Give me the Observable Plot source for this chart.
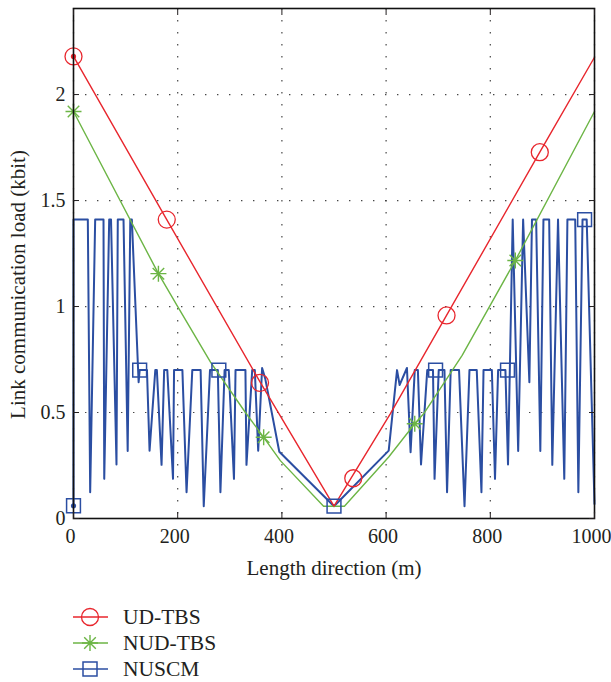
<!DOCTYPE html>
<html><head><meta charset="utf-8">
<script src="https://cdn.jsdelivr.net/npm/d3@7"></script>
<script src="https://cdn.jsdelivr.net/npm/@observablehq/plot@0.6"></script>
<style>
body{margin:0;background:#fff;font-family:"Liberation Serif",serif;}
#wrap{position:relative;width:611px;height:682px;}
.leg{position:absolute;left:72px;height:26px;display:flex;align-items:center;font-size:21.5px;color:#231f20;}
.leg svg{margin-right:14px;}
</style></head><body><div id="wrap"><div id="chart"></div></div>
<script>
const xTicks = [0, 200, 400, 600, 800, 1000];
const yTicks = [0, 0.5, 1, 1.5, 2];
const seriesNames = ["UD-TBS", "NUD-TBS", "NUSCM"];
const colors = ["#e8262d", "#6cb545", "#2b4ea2"];

// UD-TBS (red)
const udX = [0, 179, 358, 500, 608, 716, 895, 1000];
const udY = [2.18, 1.41, 0.645, 0.058, 0.494, 0.958, 1.728, 2.176];
const udMarkX = [0, 179, 358, 537, 716, 895];
const udMarkY = [2.18, 1.41, 0.64, 0.19, 0.958, 1.728];

// NUD-TBS (green)
const nudX = [0, 163, 200, 263, 330, 365, 397, 480, 520, 605, 655, 672, 746, 848, 1000];
const nudY = [1.92, 1.155, 1.0, 0.738, 0.5, 0.383, 0.273, 0.058, 0.058, 0.29, 0.447, 0.494, 0.77, 1.217, 1.92];
const nudMarkX = [0, 163, 365, 655, 848];
const nudMarkY = [1.92, 1.155, 0.383, 0.447, 1.217];

// NUSCM (blue)
const nuscmX = [0, 0, 27.5, 32, 41.6, 57.6, 59, 68.5, 72, 82.5, 85, 96, 104, 109, 112, 125, 127,
  141, 146, 157, 160, 169, 174, 180, 191, 193, 209, 217, 228, 244, 250, 262, 277, 282, 290, 298, 308, 311, 330, 332, 343, 348, 354.5, 362, 368,
  395, 500, 605,
  621, 626, 640, 647, 655, 661, 667, 679, 690, 693, 701, 712, 717, 724, 740, 750.5, 760, 774, 783, 787, 803, 809, 815, 829, 834,
  843, 853.5, 863, 875, 880, 888, 896, 902, 913, 919, 930, 942, 948, 963, 969, 977, 985, 1000];
const nuscmY = [0.06, 1.41, 1.41, 0.124, 1.41, 1.41, 0.187, 1.41, 1.41, 0.255, 1.41, 1.41, 0.318, 1.41, 1.41, 0.643, 0.70,
  0.70, 0.32, 0.70, 0.70, 0.253, 0.70, 0.70, 0.187, 0.70, 0.70, 0.124, 0.70, 0.70, 0.058, 0.70, 0.70, 0.124, 0.70, 0.70, 0.187, 0.70, 0.70, 0.253, 0.70, 0.70, 0.32, 0.71, 0.66,
  0.315, 0.058, 0.32,
  0.70, 0.63, 0.71, 0.313, 0.70, 0.70, 0.255, 0.70, 0.70, 0.187, 0.70, 0.70, 0.124, 0.70, 0.70, 0.058, 0.70, 0.70, 0.124, 0.70, 0.70, 0.187, 0.70, 0.70, 0.255,
  1.41, 0.318, 1.41, 0.643, 1.41, 1.41, 0.318, 1.41, 1.41, 0.253, 1.41, 0.187, 1.41, 1.41, 0.124, 1.41, 1.41, 0.069];
const nuscmMarkX = [0, 127, 279, 500, 695, 833, 981];
const nuscmMarkY = [0.06, 0.70, 0.70, 0.058, 0.70, 0.70, 1.41];

const zip = (xs, ys) => xs.map((x, i) => ({x, y: ys[i]}));
const ud = zip(udX, udY), udM = zip(udMarkX, udMarkY);
const nud = zip(nudX, nudY), nudM = zip(nudMarkX, nudMarkY);
const nus = zip(nuscmX, nuscmY), nusM = zip(nuscmMarkX, nuscmMarkY);

// MATLAB-like 8-arm star
const star = {
  draw(context, size) {
    const r = Math.sqrt(size / Math.PI);
    const d = r * 0.72;
    context.moveTo(-r, 0); context.lineTo(r, 0);
    context.moveTo(0, -r); context.lineTo(0, r);
    context.moveTo(-d, -d); context.lineTo(d, d);
    context.moveTo(-d, d); context.lineTo(d, -d);
  }
};

const font = "Liberation Serif";
const fmt = d => String(d);
const chart = Plot.plot({
  width: 611, height: 585,
  marginLeft: 73, marginRight: 17, marginTop: 8, marginBottom: 67,
  style: {fontFamily: font, fontSize: "20px", color: "#231f20", background: "#fff"},
  x: {domain: [0, 1000], label: null},
  y: {domain: [0, 2.406], label: null},
  marks: [
    Plot.gridX(xTicks, {stroke: "#333", strokeOpacity: 0.9, strokeDasharray: "1.4,10.6", strokeWidth: 1.2}),
    Plot.gridY(yTicks, {stroke: "#333", strokeOpacity: 0.9, strokeDasharray: "1.4,10.6", strokeWidth: 1.2}),
    Plot.line(nus, {x: "x", y: "y", stroke: colors[2], strokeWidth: 2}),
    Plot.line(nud, {x: "x", y: "y", stroke: colors[1], strokeWidth: 1.4}),
    Plot.line(ud, {x: "x", y: "y", stroke: colors[0], strokeWidth: 1.4}),
    Plot.dot(udM, {x: "x", y: "y", r: 8.5, stroke: colors[0], strokeWidth: 1.3, fill: "none"}),
    Plot.dot(nudM, {x: "x", y: "y", r: 8, symbol: star, stroke: colors[1], strokeWidth: 1.4}),
    Plot.dot(nusM, {x: "x", y: "y", r: 7.8, symbol: "square", stroke: colors[2], strokeWidth: 1.5, fill: "none"}),
    Plot.dot([udM[0]], {x: "x", y: "y", r: 2.6, fill: colors[0]}),
    Plot.dot([nusM[0]], {x: "x", y: "y", r: 2.6, fill: colors[2]}),
    Plot.frame({stroke: "#111", strokeWidth: 1.6}),
    Plot.axisX(xTicks, {anchor: "bottom", tickSize: -6, tickFormat: () => ""}),
    Plot.axisX(xTicks, {anchor: "bottom", tickSize: 0, tickPadding: 10, fontSize: 20, dx: -3, tickFormat: fmt}),
    Plot.axisX(xTicks, {anchor: "top", tickSize: -6, tickFormat: () => ""}),
    Plot.axisY(yTicks, {anchor: "left", tickSize: -6, tickPadding: 14, fontSize: 20, tickFormat: fmt}),
    Plot.axisY(yTicks, {anchor: "right", tickSize: -6, tickFormat: () => ""}),
    Plot.text(["Length direction (m)"], {frameAnchor: "bottom", dy: 56, fontSize: 21}),
    Plot.text(["Link communication load (kbit)"], {frameAnchor: "left", textAnchor: "middle", dx: -55, dy: 21, rotate: -90, fontSize: 21})
  ]
});
const wrap = document.getElementById("wrap");
document.getElementById("chart").appendChild(chart);

// legend
const symbols = [
  `<circle cx="18" cy="13" r="8.5" fill="none" stroke="${colors[0]}" stroke-width="1.3"/>`,
  `<path d="M10,13H26M18,5V21M12.2,7.2L23.8,18.8M12.2,18.8L23.8,7.2" fill="none" stroke="${colors[1]}" stroke-width="1.4"/>`,
  `<rect x="11" y="6" width="14" height="14" fill="none" stroke="${colors[2]}" stroke-width="1.5"/>`
];
const rowTops = [604, 630, 656];
seriesNames.forEach((name, i) => {
  const d = document.createElement("div");
  d.className = "leg";
  d.style.top = rowTops[i] + "px";
  d.innerHTML = `<svg width="37" height="26"><line x1="1" x2="36" y1="13" y2="13" stroke="${colors[i]}" stroke-width="1.4"/>${symbols[i]}</svg><span>${name}</span>`;
  wrap.appendChild(d);
});
</script></body></html>
